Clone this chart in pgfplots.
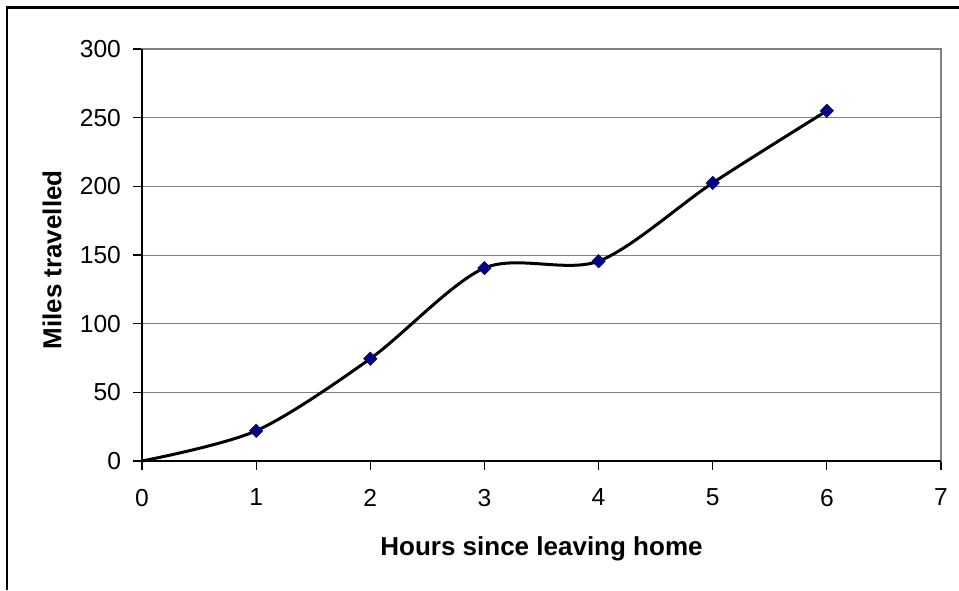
\documentclass[border=0pt]{standalone}
\usepackage{fontspec}
\setmainfont{Liberation Sans}
\usepackage{pgfplots}
\pgfplotsset{compat=1.18}
\definecolor{navymark}{RGB}{0,0,128}
\definecolor{gridgray}{RGB}{128,128,128}
\begin{document}
\begin{tikzpicture}
\useasboundingbox (0pt,0pt) rectangle (479.5pt,295pt);
\draw[black,line width=1.2pt] (3.5pt,0pt) -- (3.5pt,291.25pt) -- (479.5pt,291.25pt);
\begin{axis}[
  at={(71pt,64.5pt)}, anchor=origin,
  scale only axis, width=399.5pt, height=206pt,
  xmin=0, xmax=7, ymin=0, ymax=300,
  xtick={0,...,7}, ytick={0,50,...,300},
  tick align=outside, major tick length=4.5pt,
  xtick pos=bottom, ytick pos=left,
  axis line style={gridgray, line width=0.6pt},
  tick style={black, line width=0.6pt},
  ymajorgrids, grid style={gridgray, line width=0.5pt},
  /pgf/number format/assume math mode=true,
  ticklabel style={font=\fontsize{12.3}{14}\selectfont},
  xticklabel style={yshift=-6pt},
  yticklabel style={xshift=-2.5pt},
  label style={font=\bfseries\fontsize{13}{15}\selectfont},
  xlabel={Hours since leaving home},
  ylabel={Miles travelled},
  xlabel style={at={(axis description cs:0.5,-0.2136)}, anchor=center},
  ylabel style={at={(axis description cs:-0.1126,0.488)}, anchor=center},
  clip=false,
]
\draw[black, line width=0.6pt] (rel axis cs:0,1) -- (rel axis cs:0,0) -- (rel axis cs:1,0);
\addplot[black, line width=1.5pt, smooth,
  mark=square*, mark size=2.4pt, mark indices={2,3,4,5,6,7},
  mark options={fill=navymark, draw=navymark, rotate=45, line width=0.2pt}]
  coordinates {(0,0) (1,22) (2,74.5) (3,140.5) (4,145.5) (5,202.5) (6,255)};
\end{axis}
\end{tikzpicture}
\end{document}
